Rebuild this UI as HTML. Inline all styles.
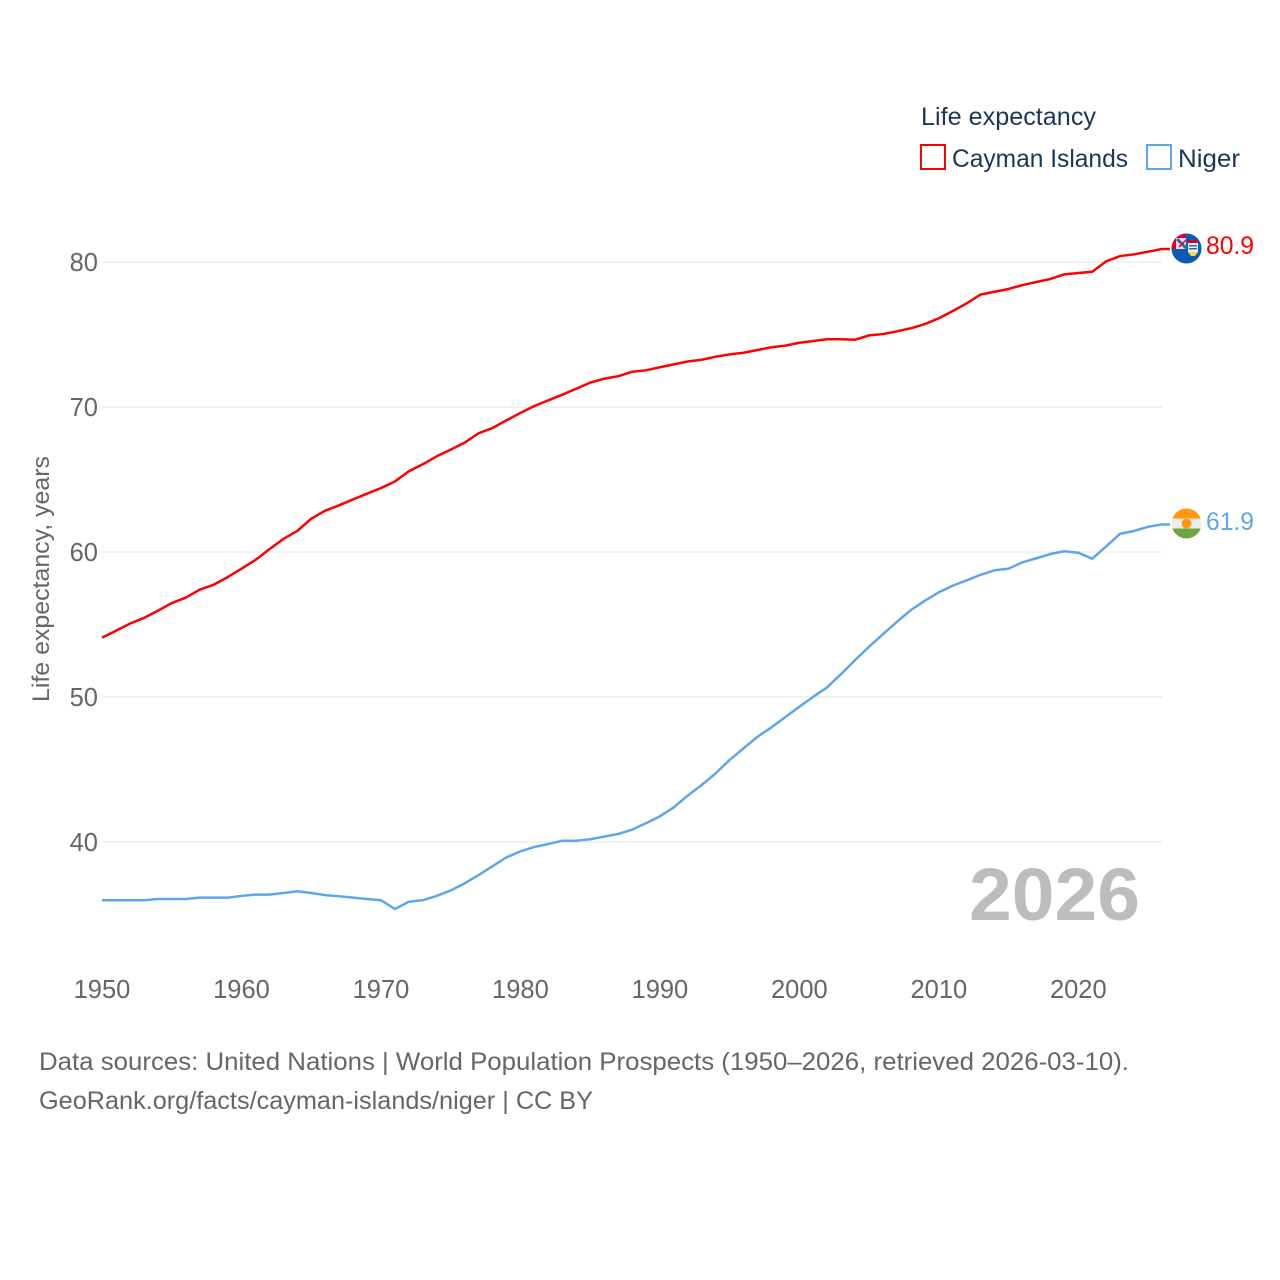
<!DOCTYPE html>
<html lang="en">
<head>
<meta charset="utf-8">
<title>Life expectancy: Cayman Islands and Niger</title>
<style>
html,body{margin:0;padding:0;background:#fff}
svg{display:block;font-family:"Liberation Sans",sans-serif}
</style>
</head>
<body>
<svg id="chart" xmlns="http://www.w3.org/2000/svg" width="1280" height="1280" viewBox="0 0 1280 1280">
  <rect x="0" y="0" width="1280" height="1280" fill="#ffffff"/>
  <defs>
    <clipPath id="flag-clip-top"><circle cx="1186.5" cy="248.5" r="15"/></clipPath>
    <clipPath id="flag-clip-bottom"><circle cx="1186.5" cy="523.5" r="15"/></clipPath>
  </defs>

  <g id="grid"></g>
  <g id="y-ticks"></g>
  <g id="x-ticks"></g>

  <text transform="translate(49 579) rotate(-90)" text-anchor="middle" font-size="24" fill="#666666" textLength="246" lengthAdjust="spacingAndGlyphs">Life expectancy, years</text>

  <text x="969" y="920" font-size="74" font-weight="700" fill="#bdbdbd" textLength="171" lengthAdjust="spacingAndGlyphs">2026</text>

  <g id="series"></g>

  <g clip-path="url(#flag-clip-top)">
    <rect x="1171" y="233" width="31" height="31" fill="#0b5bb5"/>
    <rect x="1171" y="233" width="15" height="16" fill="#e8e0e4"/>
    <rect x="1171" y="233" width="15" height="5" fill="#d80027"/>
    <rect x="1171" y="233" width="5" height="16" fill="#d80027"/>
    <path d="M1177 239 L1186 248" stroke="#3a5fa8" stroke-width="3" fill="none"/>
    <path d="M1179 247 L1186 240" stroke="#d80027" stroke-width="1.5" fill="none"/>
    <rect x="1188" y="240" width="10" height="3" fill="#d80027"/>
    <rect x="1188" y="243" width="10" height="9" fill="#eeeeee"/>
    <rect x="1189" y="245" width="8" height="1.5" fill="#1f6fc0"/>
    <rect x="1189" y="248" width="8" height="1.5" fill="#1f6fc0"/>
    <path d="M1188 252 H1198 L1195 256 H1191 Z" fill="#ffda44"/>
  </g>

  <g clip-path="url(#flag-clip-bottom)">
    <rect x="1171" y="508" width="31" height="10.5" fill="#ff9811"/>
    <rect x="1171" y="518.5" width="31" height="10" fill="#eeeeee"/>
    <rect x="1171" y="528.5" width="31" height="11" fill="#6da544"/>
    <circle cx="1186.5" cy="523.5" r="5" fill="#ff9811"/>
  </g>

  <text x="1206" y="254" font-size="25" fill="#ff0000" textLength="48" lengthAdjust="spacingAndGlyphs">80.9</text>
  <text x="1206" y="530" font-size="25" fill="#5fa5ee" textLength="48" lengthAdjust="spacingAndGlyphs">61.9</text>

  <g>
    <text x="921" y="125" font-size="25" fill="#1d3557" textLength="175" lengthAdjust="spacingAndGlyphs">Life expectancy</text>
    <g>
      <rect x="921" y="145" width="24" height="24" fill="#ffffff" stroke="#ff0000" stroke-width="2"/>
      <text x="952" y="167" font-size="25" fill="#1d3557" textLength="176" lengthAdjust="spacingAndGlyphs">Cayman Islands</text>
    </g>
    <g>
      <rect x="1147" y="145" width="24" height="24" fill="#ffffff" stroke="#5fa5ee" stroke-width="2"/>
      <text x="1178" y="167" font-size="25" fill="#1d3557" textLength="62" lengthAdjust="spacingAndGlyphs">Niger</text>
    </g>
  </g>

  <text x="39" y="1070" font-size="25" fill="#666666" textLength="1090" lengthAdjust="spacingAndGlyphs">Data sources: United Nations | World Population Prospects (1950–2026, retrieved 2026-03-10).</text>
  <text x="39" y="1109" font-size="25" fill="#666666" textLength="554" lengthAdjust="spacingAndGlyphs">GeoRank.org/facts/cayman-islands/niger | CC BY</text>
</svg>

<script>
const startYear = 1950;
const endYear = 2026;
const yTickValues = [40, 50, 60, 70, 80];
const xTickValues = [1950, 1960, 1970, 1980, 1990, 2000, 2010, 2020];

const caymanValues = [
  54.09, 54.57, 55.06, 55.45, 55.95, 56.48, 56.85, 57.40, 57.74, 58.26,
  58.85, 59.45, 60.19, 60.90, 61.45, 62.30, 62.85, 63.22, 63.63, 64.02,
  64.41, 64.86, 65.57, 66.05, 66.60, 67.06, 67.54, 68.19, 68.55, 69.08,
  69.59, 70.07, 70.46, 70.85, 71.26, 71.68, 71.95, 72.12, 72.43, 72.53,
  72.74, 72.94, 73.14, 73.26, 73.47, 73.63, 73.74, 73.93, 74.12, 74.23,
  74.43, 74.55, 74.67, 74.67, 74.64, 74.94, 75.03, 75.22, 75.43, 75.72,
  76.12, 76.62, 77.15, 77.76, 77.95, 78.14, 78.41, 78.62, 78.83, 79.15,
  79.24, 79.33, 80.05, 80.41, 80.53, 80.71, 80.90
];

const nigerValues = [
  35.98, 35.98, 35.98, 35.98, 36.07, 36.07, 36.07, 36.16, 36.16, 36.16,
  36.28, 36.37, 36.37, 36.48, 36.60, 36.48, 36.34, 36.26, 36.16, 36.07,
  35.98, 35.38, 35.88, 35.99, 36.28, 36.66, 37.15, 37.72, 38.33, 38.94,
  39.36, 39.66, 39.86, 40.09, 40.09, 40.19, 40.37, 40.55, 40.85, 41.29,
  41.77, 42.39, 43.21, 43.93, 44.74, 45.66, 46.46, 47.26, 47.91, 48.62,
  49.33, 50.02, 50.67, 51.59, 52.55, 53.47, 54.34, 55.19, 56.00, 56.64,
  57.22, 57.68, 58.05, 58.43, 58.74, 58.85, 59.29, 59.57, 59.86, 60.05,
  59.95, 59.54, 60.39, 61.26, 61.45, 61.74, 61.90
];

const NS = 'http://www.w3.org/2000/svg';
const plotLeft = 102;
const plotRight = 1162;
const y40 = 842;
const pxPerYearUnit = 14.5;

function xScale(year) {
  return plotLeft + (year - startYear) * (plotRight - plotLeft) / (endYear - startYear);
}
function yScale(value) {
  return y40 - (value - 40) * pxPerYearUnit;
}

const gridGroup = document.getElementById('grid');
const yTickGroup = document.getElementById('y-ticks');
const xTickGroup = document.getElementById('x-ticks');
const seriesGroup = document.getElementById('series');

yTickValues.forEach(function (v) {
  const line = document.createElementNS(NS, 'line');
  
  
  line.setAttribute('x1', plotLeft);
  line.setAttribute('x2', plotRight);
  line.setAttribute('y1', yScale(v));
  line.setAttribute('y2', yScale(v));
  line.setAttribute('stroke', '#eeeeee');
  line.setAttribute('stroke-width', '1.5');
  gridGroup.appendChild(line);

  const label = document.createElementNS(NS, 'text');
  
  
  label.setAttribute('x', 98);
  label.setAttribute('y', yScale(v) + 9);
  label.setAttribute('text-anchor', 'end');
  label.setAttribute('font-size', '25.5');
  label.setAttribute('fill', '#666666');
  label.textContent = String(v);
  yTickGroup.appendChild(label);
});

xTickValues.forEach(function (year) {
  const label = document.createElementNS(NS, 'text');
  
  
  label.setAttribute('x', xScale(year));
  label.setAttribute('y', 998);
  label.setAttribute('text-anchor', 'middle');
  label.setAttribute('font-size', '25.5');
  label.setAttribute('fill', '#666666');
  label.textContent = String(year);
  xTickGroup.appendChild(label);
});

function drawSeries(values, color) {
  const pts = values.map(function (v, i) {
    return xScale(startYear + i).toFixed(2) + ',' + yScale(v).toFixed(2);
  });
  const lastY = yScale(values[values.length - 1]).toFixed(2);
  pts.push('1170,' + lastY);
  const path = document.createElementNS(NS, 'polyline');
  
  
  path.setAttribute('points', pts.join(' '));
  path.setAttribute('fill', 'none');
  path.setAttribute('stroke', color);
  path.setAttribute('stroke-width', '2.5');
  path.setAttribute('stroke-linejoin', 'round');
  seriesGroup.appendChild(path);
}

drawSeries(caymanValues, '#ff0000');
drawSeries(nigerValues, '#5fa5ee');
</script>
</body>
</html>
